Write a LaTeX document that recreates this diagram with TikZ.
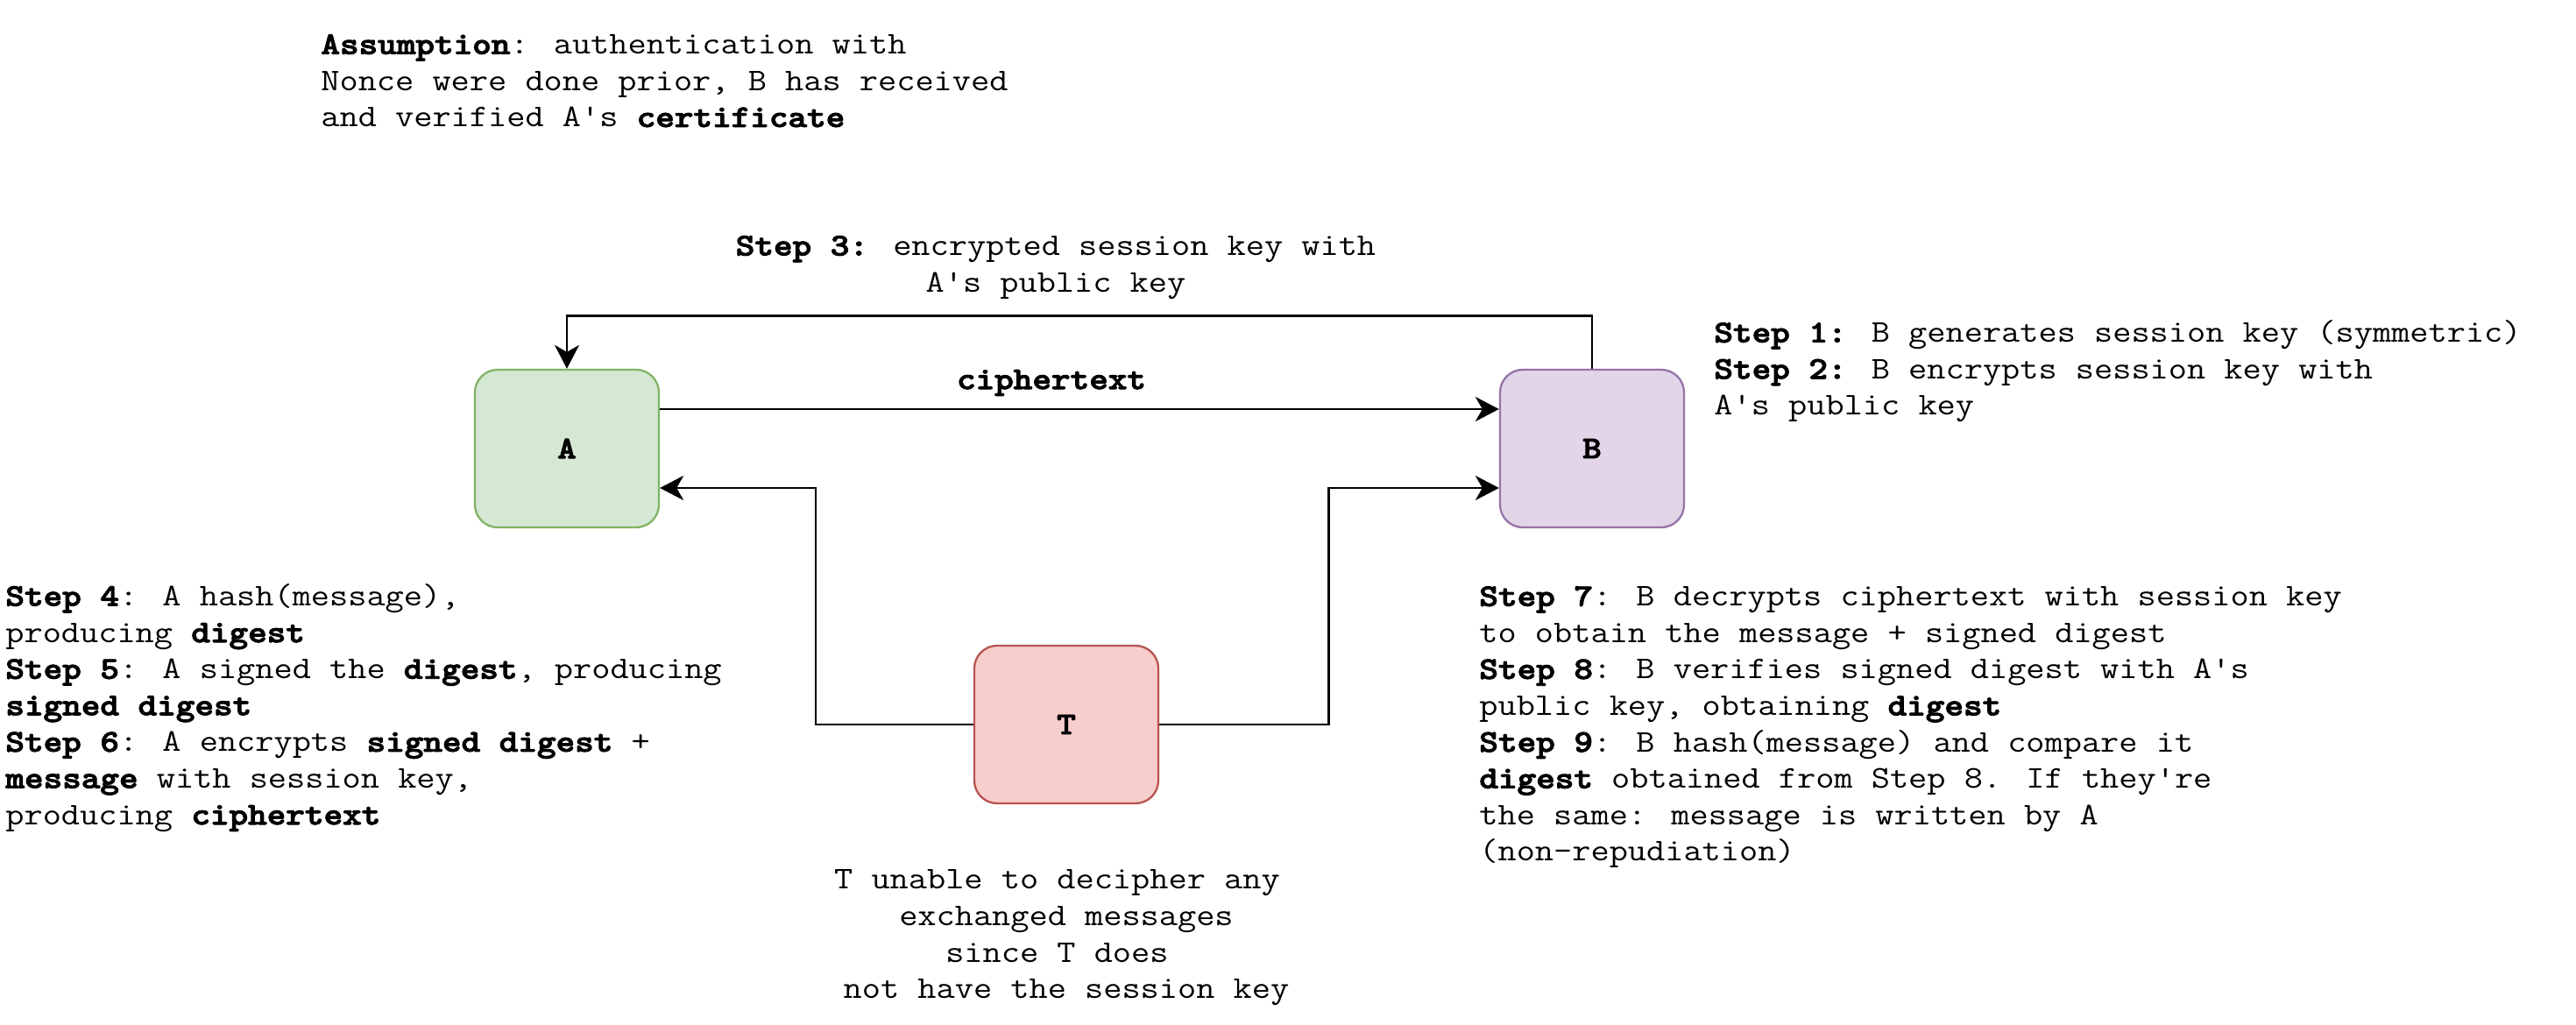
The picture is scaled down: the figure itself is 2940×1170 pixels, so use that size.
\documentclass[tikz,border=0pt]{standalone}
\usepackage{graphicx}
\usetikzlibrary{arrows.meta}
\definecolor{gfill}{HTML}{D5E8D4}
\definecolor{gline}{HTML}{82B366}
\definecolor{pfill}{HTML}{E1D5E7}
\definecolor{pline}{HTML}{9673A6}
\definecolor{rfill}{HTML}{F8CECC}
\definecolor{rline}{HTML}{B85450}
\newcommand{\mtl}[1]{\scalebox{1.143}[1]{\begin{tabular}{@{}l@{}}#1\end{tabular}}}
\newcommand{\mtc}[1]{\scalebox{1.143}[1]{\begin{tabular}{@{}c@{}}#1\end{tabular}}}
\newcommand{\q}{\textquotesingle}
\newcommand{\bt}[1]{\special{pdf:literal direct 2 Tr 0.45 w}\textbf{#1}\special{pdf:literal direct 0 Tr}}
\begin{document}
\begin{tikzpicture}[x=0.5pt,y=-0.5pt,
  every node/.style={font=\fontsize{18}{20.8}\selectfont\ttfamily, inner sep=0pt},
  party/.style={rounded corners=13pt, line width=1.15pt, minimum width=105pt, minimum height=90pt},
  txt/.style={anchor=west},
  conn/.style={draw=black, line width=1.35pt, -{Stealth[length=13.5pt,width=14pt,inset=4pt]}}]
\useasboundingbox (0,0) rectangle (2940,1170);
\fill[white] (0,0) rectangle (2940,1170);

\node[party, fill=gfill, draw=gline] (A) at (647,512) {\scalebox{1.143}[1]{\bt{A}}};
\node[party, fill=pfill, draw=pline] (B) at (1817,512) {\scalebox{1.143}[1]{\bt{B}}};
\node[party, fill=rfill, draw=rline] (T) at (1217,827) {\scalebox{1.143}[1]{\bt{T}}};

\node[txt] (assume) at (366,95) {\mtl{\bt{Assumption}: authentication with\\Nonce were done prior, B has received\\and verified A\q s \bt{certificate}}};

\node (s3) at (1205,304) {\mtc{\bt{Step 3:} encrypted session key with\\A\q s public key}};

\node[txt] (s12) at (1956,424) {\mtl{\bt{Step 1:} B generates session key (symmetric)\\\bt{Step 2:} B encrypts session key with\\A\q s public key}};

\node[txt] (s456) at (6,808) {\mtl{\bt{Step 4}: A hash(message),\\producing \bt{digest}\\\bt{Step 5}: A signed the \bt{digest}, producing\\\bt{signed digest}\\\bt{Step 6}: A encrypts \bt{signed digest} +\\\bt{message} with session key,\\producing \bt{ciphertext}}};

\node[txt] (s789) at (1688,829) {\mtl{\bt{Step 7}: B decrypts ciphertext with session key\\to obtain the message + signed digest\\\bt{Step 8}: B verifies signed digest with A\q s\\public key, obtaining \bt{digest}\\\bt{Step 9}: B hash(message) and compare it\\\bt{digest} obtained from Step 8. If they\q re\\the same: message is written by A\\(non-repudiation)}};

\node (tnote) at (1217,1069) {\mtc{T unable to decipher any\hphantom{x}\\exchanged messages\\since T does\hphantom{x}\\not have the session key}};

\node (clab) at (1200,437) {\scalebox{1.143}[1]{\bt{ciphertext}}};

\draw[conn] (B.north) -- ++(0,-60) -| (A.north);
\draw[conn] ([yshift=22.5pt]A.east) -- ([yshift=22.5pt]B.west);
\draw[conn] (T.west) -- ++(-180,0) |- ([yshift=-22.5pt]A.east);
\draw[conn] (T.east) -- ++(193,0) |- ([yshift=-22.5pt]B.west);
\end{tikzpicture}
\end{document}
